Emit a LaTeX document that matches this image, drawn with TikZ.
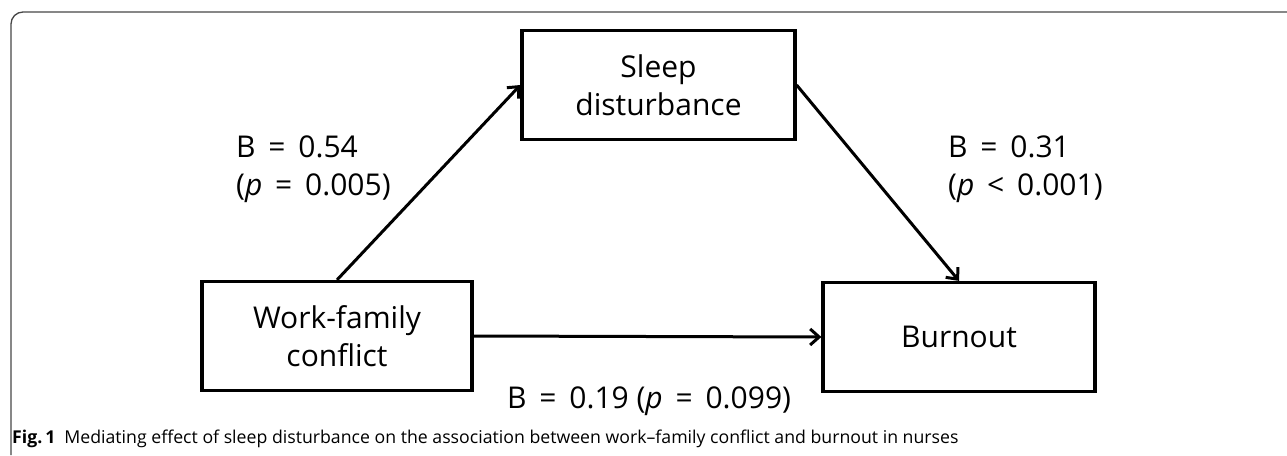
\documentclass[tikz,border=0pt]{standalone}
\usepackage{fontspec}
\setmainfont{Open Sans}
\newfontfamily\capfont[Ligatures=TeX]{Open Sans}
\usepackage{tikz}
\usetikzlibrary{arrows.meta,positioning}
\definecolor{framegray}{RGB}{70,70,70}
\begin{document}
\begin{tikzpicture}[x=1pt,y=-1pt,
  box/.style={draw,line width=3.2pt,minimum width=#1,minimum height=109pt,inner sep=0pt,align=center,font=\fontsize{30}{38}\selectfont},
  lbl/.style={inner sep=0pt,align=left,font=\fontsize{30}{38}\selectfont},
  arr/.style={-{Straight Barb[length=9pt,width=16pt,line width=3pt]},line width=3pt}]
\useasboundingbox (0,0) rectangle (1287,455);
\draw[framegray,line width=1.3pt,rounded corners=12pt] (11,455) -- (11,12) -- (1287,12);
\node[box=273pt] (sd) at (658.5,85) {Sleep\\disturbance};
\node[box=270pt] (wf) at (337,336) {Work-family\\conflict};
\node[box=272pt] (bo) at (959,337) {Burnout};
\draw[arr] (wf.north) -- (sd.west);
\draw[arr] (sd.east) -- (bo.north);
\draw[arr] (wf.east) -- (bo.west);
\node[lbl,anchor=north west] (l1) at (236,136) {B \,=\, 0.54\\(\textit{p} \,=\, 0.005)};
\node[lbl,anchor=north west] (l2) at (948,136) {B \,=\, 0.31\\(\textit{p} \,<\, 0.001)};
\node[lbl,anchor=base west] (l3) at (507,408) {B \,=\, 0.19 (\textit{p} \,=\, 0.099)};
\node[inner sep=0pt,anchor=base west,font=\capfont\fontsize{17.7}{20}\selectfont] (cap) at (12,443) {\textbf{Fig.\,1}\hspace{9pt}Mediating effect of sleep disturbance on the association between work–family conflict and burnout in nurses};
\end{tikzpicture}
\end{document}
